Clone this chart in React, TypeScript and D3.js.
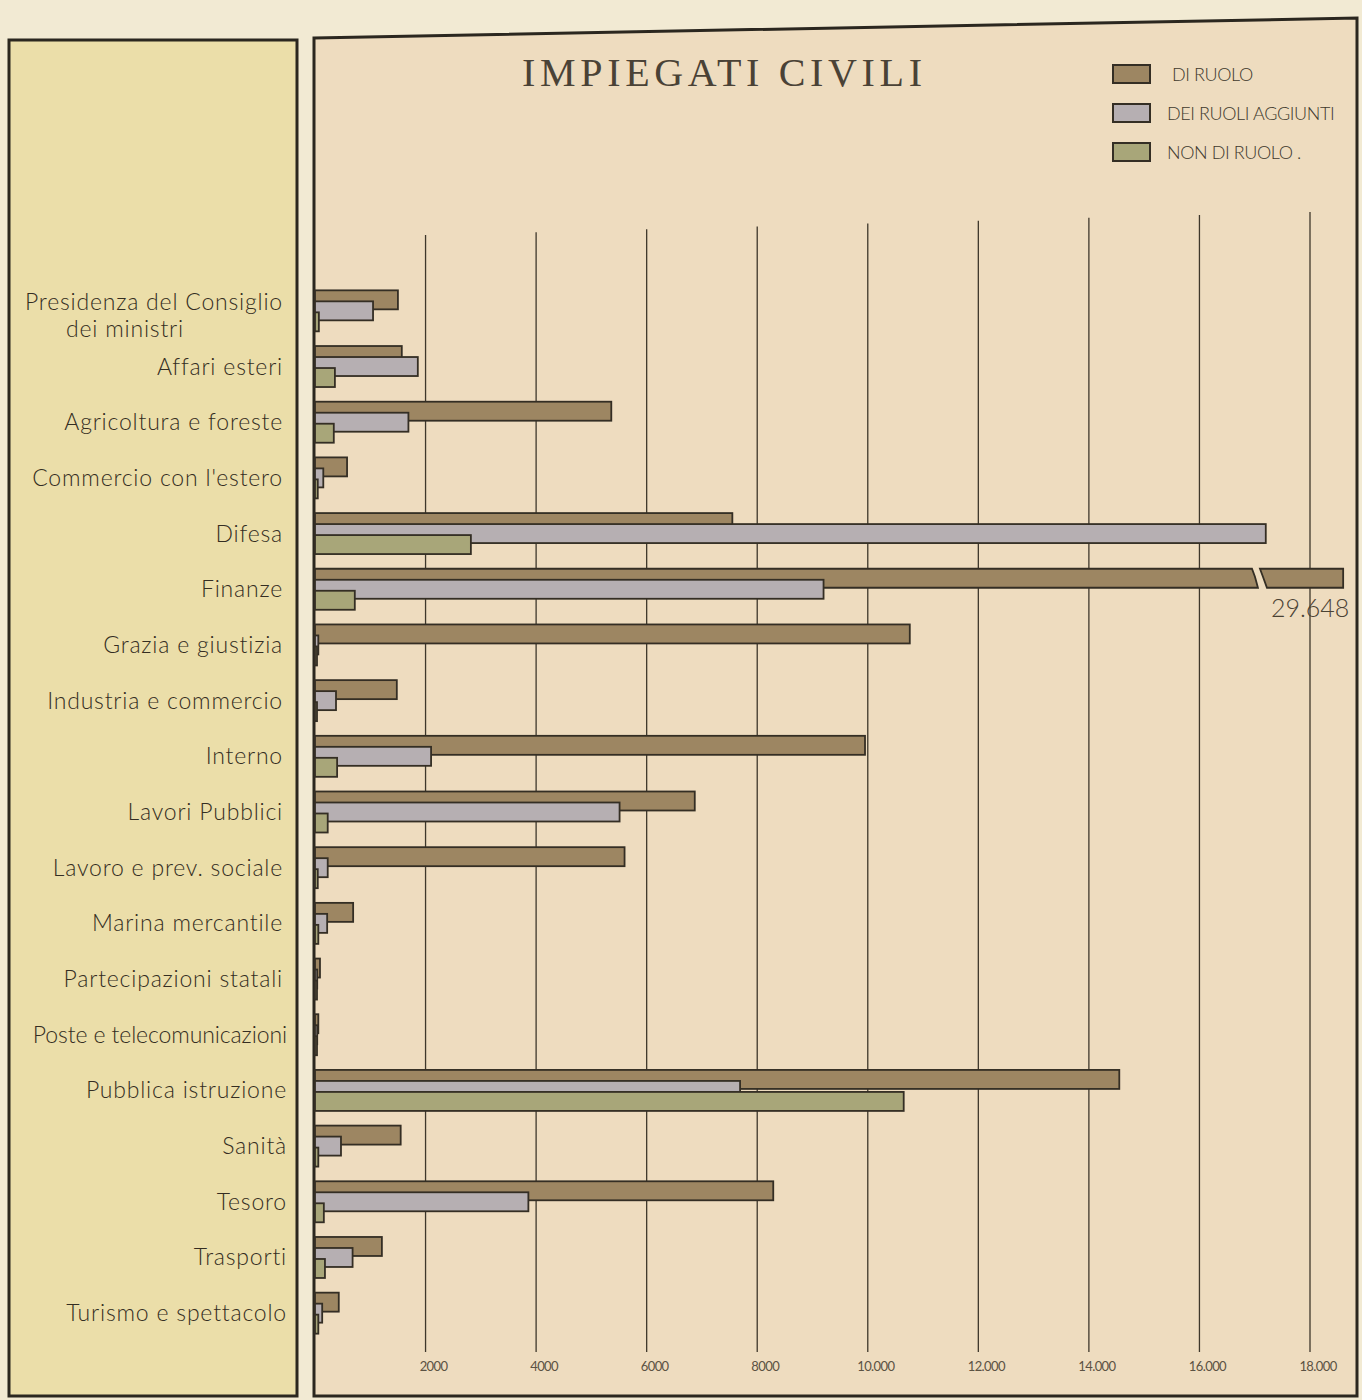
import * as d3 from "d3";

const categories = [
  "Presidenza del Consiglio dei ministri",
  "Affari esteri",
  "Agricoltura e foreste",
  "Commercio con l'estero",
  "Difesa",
  "Finanze",
  "Grazia e giustizia",
  "Industria e commercio",
  "Interno",
  "Lavori Pubblici",
  "Lavoro e prev. sociale",
  "Marina mercantile",
  "Partecipazioni statali",
  "Poste e telecomunicazioni",
  "Pubblica istruzione",
  "Sanità",
  "Tesoro",
  "Trasporti",
  "Turismo e spettacolo",
];

const diRuolo = [1500, 1570, 5360, 580, 7550, 29648, 10760, 1480, 9950, 6870, 5600, 690, 90, 60, 14550, 1550, 8290, 1210, 430];
const deiRuoliAggiunti = [1050, 1860, 1690, 150, 17200, 9200, 60, 380, 2100, 5510, 230, 220, 40, 40, 7690, 470, 3860, 680, 130];
const nonDiRuolo = [70, 360, 340, 50, 2820, 720, 30, 20, 400, 230, 50, 60, 20, 20, 10650, 60, 160, 180, 60];

const seriesNames = ["DI RUOLO", "DEI RUOLI AGGIUNTI", "NON DI RUOLO ."];
const seriesColors = ["#9d8662", "#b6afb2", "#a8a679"];

const ticks = [2000, 4000, 6000, 8000, 10000, 12000, 14000, 16000, 18000];
const tickLabels = ["2000", "4000", "6000", "8000", "10.000", "12.000", "14.000", "16.000", "18.000"];

// values beyond the axis get a broken bar
const breakAt = 16950;
const drawnCap = 18600;

const W = 1362;
const H = 1400;
const ink = "#342e24";

export default function App() {
  const x = d3.scaleLinear().domain([0, 18000]).range([315, 1310]);
  const y = d3.scaleBand().domain(categories).range([283, 1341]);
  const barH = 19;
  const off = 11;
  const series = [diRuolo, deiRuoliAggiunti, nonDiRuolo];

  const bars: any[] = [];
  categories.forEach((c, ci) => {
    const center = (y(c) as number) + y.bandwidth() / 2;
    series.forEach((vals, si) => {
      const v = vals[ci];
      const top = center - (barH + 2 * off) / 2 + si * off;
      if (v > 18000) {
        const xb = x(breakAt);
        const p1 = `M${x(0)},${top} L${xb},${top} L${xb + 3},${top + 8} L${xb + 6},${top + barH} L${x(0)},${top + barH} Z`;
        const p2 = `M${xb + 8},${top} L${x(drawnCap)},${top} L${x(drawnCap)},${top + barH} L${xb + 15},${top + barH} L${xb + 11},${top + 8} Z`;
        bars.push(<path key={`${ci}-${si}-a`} d={p1} fill={seriesColors[si]} stroke={ink} strokeWidth={1.8} />);
        bars.push(<path key={`${ci}-${si}-b`} d={p2} fill={seriesColors[si]} stroke={ink} strokeWidth={1.8} />);
        bars.push(
          <text key={`${ci}-${si}-t`} x={x(drawnCap) - 33} y={top + barH + 29} textAnchor="middle"
            fontFamily="Lato" fontWeight={300} fontSize={25} fill="#4a4234">
            {d3.format(",")(v).replace(",", ".")}
          </text>
        );
      } else {
        bars.push(
          <rect key={`${ci}-${si}`} x={x(0)} y={top} width={Math.max(x(v) - x(0), 2)} height={barH}
            fill={seriesColors[si]} stroke={ink} strokeWidth={1.8} />
        );
      }
    });
  });

  const labels = categories.map((c, ci) => {
    const cy = (y(c) as number) + y.bandwidth() / 2 + 8;
    if (ci === 0) {
      return (
        <g key={c}>
          <text x={283} y={cy - 9} textAnchor="end">Presidenza del Consiglio</text>
          <text x={125} y={cy + 18} textAnchor="middle">dei ministri</text>
        </g>
      );
    }
    return (
      <text key={c} x={ci > 12 ? 287 : 283} y={cy} textAnchor="end"
        letterSpacing={c.length > 22 ? -0.1 : 0.8}>
        {c}
      </text>
    );
  });

  return (
    <svg width={W} height={H} style={{ position: "absolute", left: 0, top: 0, display: "block" }}>
      <rect x={0} y={0} width={W} height={H} fill="#f2ead3" />
      <rect x={9} y={40} width={288} height={1356} fill="#ebdea9" stroke="#2b271f" strokeWidth={3} />
      <path d={`M314,38 L1357,18 L1357,1396 L314,1396 Z`} fill="#eedcbf" stroke="#2b271f" strokeWidth={3} />

      <text x={722} y={86} textAnchor="middle" fontFamily="Liberation Serif" fontSize={40}
        textLength={400} lengthAdjust="spacing" fill="#4a4236">
        IMPIEGATI CIVILI
      </text>

      {seriesNames.map((s, i) => (
        <g key={s}>
          <rect x={1113} y={65 + i * 39} width={37} height={18} fill={seriesColors[i]} stroke={ink} strokeWidth={2} />
          <text x={i === 0 ? 1172 : 1167} y={81 + i * 39} fontFamily="Lato" fontWeight={300} fontSize={18}
            fill="#40392d" letterSpacing={-0.4}>
            {s}
          </text>
        </g>
      ))}

      {ticks.map((t, i) => (
        <g key={t}>
          <line x1={x(t)} x2={x(t)} y1={238 - (t / 18000) * 26} y2={1352} stroke="#3e372b" strokeWidth={1.3} />
          <text x={x(t) + 8} y={1371} textAnchor="middle" fontFamily="Lato" fontSize={13} fill="#5b5243"
            letterSpacing={-0.6}>
            {tickLabels[i]}
          </text>
        </g>
      ))}

      {bars}

      <g fontFamily="Lato" fontWeight={300} fontSize={23} fill="#342d22" letterSpacing={0.8}>
        {labels}
      </g>
    </svg>
  );
}
